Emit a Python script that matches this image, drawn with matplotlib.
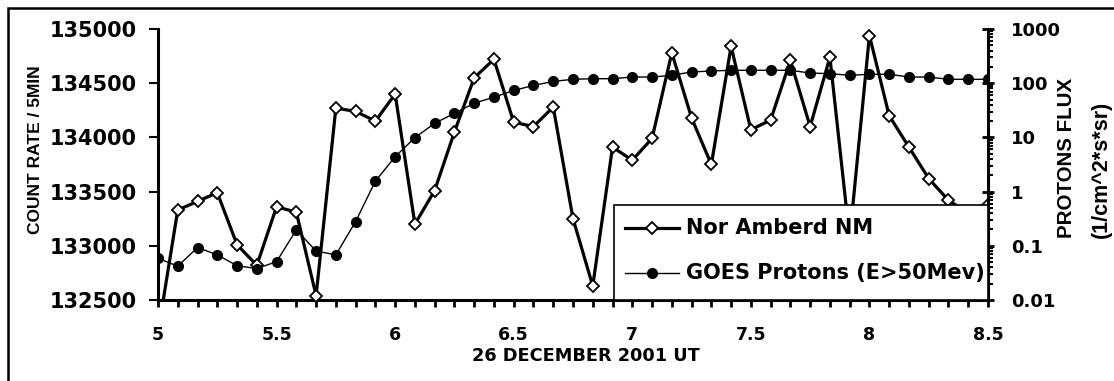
"""Nor Amberd neutron monitor count rate vs GOES >50 MeV proton flux, 26 Dec 2001."""
import matplotlib
matplotlib.use("Agg")
import matplotlib.pyplot as plt
from matplotlib.lines import Line2D
from matplotlib.patches import Rectangle
from matplotlib.ticker import FixedLocator, LogLocator, NullFormatter

plt.rcParams["font.family"] = ["DejaVu Sans"]
plt.rcParams["font.weight"] = "bold"
VERT_FONT = ["Liberation Sans", "DejaVu Sans"]

# 5-minute samples, hours UT
STEP = 1 / 12
N_POINTS = 43
hours = [5 + i * STEP for i in range(N_POINTS)]

nm_counts = [
    132200, 133330, 133410, 133490, 133010, 132820, 133360, 133310, 132540,
    134270, 134240, 134150, 134400, 133200, 133510, 134050, 134550, 134720,
    134140, 134100, 134280, 133250, 132630, 133910, 133790, 133990, 134780,
    134180, 133750, 134840, 134070, 134160, 134710, 134100, 134740, 133070,
    134940, 134200, 133910, 133620, 133420, 133300, 133380,
]

goes_flux = [
    0.059, 0.042, 0.093, 0.068, 0.043, 0.038, 0.051, 0.197, 0.080,
    0.068, 0.28, 1.56, 4.4, 9.9, 18.2, 27.8, 42.7, 55.2,
    73.5, 91, 108, 118, 121, 121, 130, 130, 140,
    161, 168, 173, 173, 173, 173, 154, 150, 140,
    146, 146, 130, 130, 118, 118, 118,
]

nm_ticks = [132500, 133000, 133500, 134000, 134500, 135000]
flux_ticks = [0.01, 0.1, 1, 10, 100, 1000]
flux_labels = ["0.01", "0.1", "1", "10", "100", "1000"]
hour_ticks = [5, 5.5, 6, 6.5, 7, 7.5, 8, 8.5]
hour_labels = ["5", "5.5", "6", "6.5", "7", "7.5", "8", "8.5"]

W, H = 1114, 381
fig = plt.figure(figsize=(W / 100, H / 100), dpi=100)
x0, x1, y0, y1 = 158, 988, 29, 300   # plot area in pixels
ax = fig.add_axes([x0 / W, 1 - y1 / H, (x1 - x0) / W, (y1 - y0) / H])
ax2 = ax.twinx()

nm_style = dict(color="black", lw=2.3, marker="D", ms=6.5, mfc="white",
                mec="black", mew=1.3)
goes_style = dict(color="black", lw=1.0, marker="o", ms=7, mfc="black",
                  mec="black")
ax.plot(hours, nm_counts, zorder=3, **nm_style)
ax2.plot(hours, goes_flux, zorder=2, **goes_style)

ax.set_xlim(5, 8.5)
ax.set_ylim(132500, 135000)
ax2.set_ylim(0.01, 1000)
ax2.set_yscale("log")

ax.set_xticks(hour_ticks)
ax.set_xticklabels(hour_labels)
ax.xaxis.set_minor_locator(FixedLocator(hours))
ax.set_yticks(nm_ticks)
ax.set_yticklabels([str(v) for v in nm_ticks])
ax2.set_yticks(flux_ticks)
ax2.set_yticklabels(flux_labels)
ax2.yaxis.set_minor_locator(LogLocator(base=10, subs=range(2, 10)))
ax2.yaxis.set_minor_formatter(NullFormatter())

for a in (ax, ax2):
    a.spines["top"].set_visible(False)
    for side in ("left", "bottom", "right"):
        a.spines[side].set_linewidth(2.2)
ax.spines["right"].set_visible(False)
ax2.spines["left"].set_visible(False)
ax2.spines["bottom"].set_visible(False)

ax.tick_params(axis="x", which="both", direction="out", length=5, width=2.0,
               labelsize=12.5, pad=14)
ax.tick_params(axis="y", which="major", direction="out", length=6.5, width=1.5,
               labelsize=15, pad=8.5)
ax2.tick_params(axis="y", which="major", direction="inout", length=9, width=2,
                labelsize=13, pad=12)
ax2.tick_params(axis="y", which="minor", direction="out", length=3.5, width=1.5)

ax.set_xlabel("26 DECEMBER 2001 UT", fontsize=12.8, fontweight="bold")
ax.xaxis.set_label_coords((586 - x0) / (x1 - x0), (y1 - 347) / (y1 - y0))
fig.text(36 / W, 1 - 150 / H, "COUNT RATE / 5MIN", rotation=90, ha="center",
         va="center", fontsize=12.5, fontweight="bold", family=VERT_FONT)
fig.text(1067 / W, 1 - 238 / H, "PROTONS FLUX", rotation=90, ha="center",
         va="bottom", fontsize=14.8, fontweight="bold", family=VERT_FONT)
fig.text(1101 / W, 1 - 238 / H, "(1/cm^2*s*sr)", rotation=90, ha="center",
         va="bottom", fontsize=15.5, fontweight="bold", family=VERT_FONT)

# legend box in the lower-right corner of the plot area (pixel layout)
def px(x, y):
    return (x - x0) / (x1 - x0), (y1 - y) / (y1 - y0)

lx, ly = px(614, 205)
ax2.add_patch(Rectangle((lx, 0), 1 - lx, ly, transform=ax2.transAxes,
                        facecolor="white", edgecolor="black", lw=1.2,
                        zorder=10, clip_on=False))
for row_y, style, text in ((228, nm_style, "Nor Amberd NM"),
                           (273, goes_style, "GOES Protons (E>50Mev)")):
    xa, ya = px(625, row_y)
    xb, _ = px(679, row_y)
    ax2.add_line(Line2D([xa, xb], [ya, ya], transform=ax2.transAxes,
                        color="black", lw=style["lw"], zorder=11, clip_on=False))
    ax2.add_line(Line2D([(xa + xb) / 2], [ya], transform=ax2.transAxes,
                        ls="none", zorder=12, clip_on=False,
                        **{k: v for k, v in style.items() if k not in ("lw", "color")}))
    tx, _ = px(686, row_y)
    ax2.text(tx, ya, text, transform=ax2.transAxes, ha="left", va="center",
             fontsize=15, fontweight="bold", zorder=12)

# chart frame, open at the right/bottom edge of the image
fig.patches.append(Rectangle((7.5 / W, -0.1), 1.2, 1 - 8 / H + 0.1,
                             transform=fig.transFigure, fill=False,
                             edgecolor="black", lw=1.8))

fig.savefig("out.png", dpi=100)
